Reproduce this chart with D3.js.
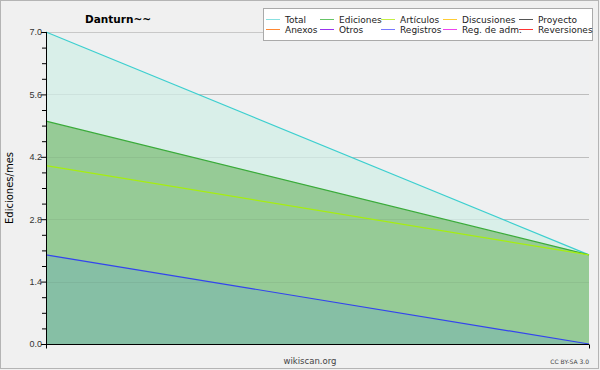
<!DOCTYPE html>
<html>
<head>
<meta charset="utf-8">
<script src="https://cdn.jsdelivr.net/npm/d3@7"></script>
<style>
  body { margin: 0; background: #f0f0f0; }
  svg { display: block; font-family: "DejaVu Sans", sans-serif; }
</style>
</head>
<body>
<script>
// months on the x axis (no labels shown in the chart)
const months = ["2016-01", "2016-02"];

// series values per month
const total = [7, 2];
const ediciones = [5, 2];
const articulos = [4, 2];
const registros = [2, 0];

const yTicks = [0, 1.4, 2.8, 4.2, 5.6, 7.0];

const legendNames = ["Total", "Ediciones", "Artículos", "Discusiones", "Proyecto",
                     "Anexos", "Otros", "Registros", "Reg. de adm.", "Reversiones"];
const legendColors = ["#88e0e0", "#66c466", "#c4ee44", "#ffcc33", "#555555",
                      "#ff8833", "#9933ee", "#7777ff", "#ee44ee", "#ff3333"];

const w = 600, h = 370;
const margin = {left: 46, right: 11, top: 32, bottom: 26};

const svg = d3.select("body").append("svg")
  .attr("width", w)
  .attr("height", h);

svg.append("rect")
  .attr("x", 0.5).attr("y", 0.5)
  .attr("width", w - 2).attr("height", h - 2)
  .attr("fill", "#f0f0f0")
  .attr("stroke", "#b4b4b4");

const x = d3.scalePoint().domain(months).range([margin.left, w - margin.right]);
const y = d3.scaleLinear().domain([0, 7]).range([h - margin.bottom, margin.top]);

// plot background
svg.append("rect")
  .attr("x", margin.left).attr("y", margin.top)
  .attr("width", w - margin.right - margin.left)
  .attr("height", h - margin.bottom - margin.top)
  .attr("fill", "#eff0f1");

// grid lines
svg.selectAll(".grid")
  .data(yTicks.slice(1))
  .enter().append("line")
  .attr("x1", margin.left).attr("x2", w - margin.right)
  .attr("y1", d => Math.round(y(d)) + 0.5).attr("y2", d => Math.round(y(d)) + 0.5)
  .attr("stroke", "#c8c8c8");

function area(vals) {
  return d3.area()
    .x((d, i) => x(months[i]))
    .y0(y(0))
    .y1(d => y(d))(vals);
}
function line(vals) {
  return d3.line()
    .x((d, i) => x(months[i]))
    .y(d => y(d))(vals);
}

const series = [
  {vals: total, fill: "#d9efe9", stroke: "#3ccfcf"},
  {vals: ediciones, fill: "#96cb96", stroke: "#3aab3a"},
  {vals: articulos, fill: null, stroke: "#a6ee10"},
  {vals: registros, fill: "#86bfa5", stroke: "#3344ee"}
];

series.forEach(function(s) {
  if (s.fill) {
    svg.append("path").attr("d", area(s.vals)).attr("fill", s.fill);
  }
});
// redraw grid faintly over fills
svg.selectAll(".grid2")
  .data(yTicks.slice(1, -1))
  .enter().append("line")
  .attr("x1", margin.left).attr("x2", w - margin.right)
  .attr("y1", d => Math.round(y(d)) + 0.5).attr("y2", d => Math.round(y(d)) + 0.5)
  .attr("stroke", "#000").attr("stroke-opacity", 0.05);

series.forEach(function(s) {
  svg.append("path").attr("d", line(s.vals))
    .attr("fill", "none").attr("stroke", s.stroke).attr("stroke-width", 1.2);
});

// y axis
const yAxis = d3.axisLeft(y)
  .tickValues(d3.range(0, 7.01, 0.35))
  .tickSize(4)
  .tickFormat(d => yTicks.some(t => Math.abs(t - d) < 1e-6) ? d.toFixed(1) : "");
const gy = svg.append("g")
  .attr("transform", "translate(" + margin.left + ",0)")
  .call(yAxis);
gy.select(".domain").attr("d", "M0.5," + y(7) + "V" + (y(0) + 0.5));
gy.selectAll("text").attr("font-size", 9).attr("fill", "#333").attr("x", -4).attr("dy", "0.32em");
gy.selectAll(".tick line").attr("stroke", "#000");
gy.selectAll(".tick").filter(d => yTicks.some(t => Math.abs(t - d) < 1e-6))
  .select("line").attr("x2", -5);

// x axis
const gx = svg.append("g")
  .attr("transform", "translate(0," + (y(0) + 0.5) + ")")
  .call(d3.axisBottom(x).tickSize(4).tickFormat(""));
gx.select(".domain").attr("d", "M" + x(months[0]) + ",0H" + x(months[1]));

// title and texts
svg.append("text").attr("x", 85).attr("y", 23)
  .attr("font-size", 10.5).attr("font-weight", "bold").text("Danturn~~");

svg.append("text")
  .attr("transform", "translate(13," + (y(3.5)) + ") rotate(-90)")
  .attr("text-anchor", "middle").attr("font-size", 10).text("Ediciones/mes");

svg.append("text").attr("x", 310).attr("y", 364)
  .attr("text-anchor", "middle").attr("font-size", 8.5).attr("fill", "#444").text("wikiscan.org");

svg.append("text").attr("x", 589).attr("y", 364)
  .attr("text-anchor", "end").attr("font-size", 6).attr("fill", "#444").text("CC BY-SA 3.0");

// legend
const lg = svg.append("g");
lg.append("rect")
  .attr("x", 263.5).attr("y", 8.5).attr("width", 329).attr("height", 32)
  .attr("fill", "#fff").attr("stroke", "#aaa");

const colX = [265, 319, 380, 442, 518];
legendNames.forEach(function(name, i) {
  const cx = colX[i % 5];
  const cy = i < 5 ? 19 : 29;
  lg.append("line")
    .attr("x1", cx + 1).attr("x2", cx + 15)
    .attr("y1", cy + 0.5).attr("y2", cy + 0.5)
    .attr("stroke", legendColors[i]);
  lg.append("text")
    .attr("x", cx + 20).attr("y", cy + 3.5)
    .attr("font-size", 9).attr("textLength", null)
    .attr("fill", "#222").text(name);
});
</script>
</body>
</html>
